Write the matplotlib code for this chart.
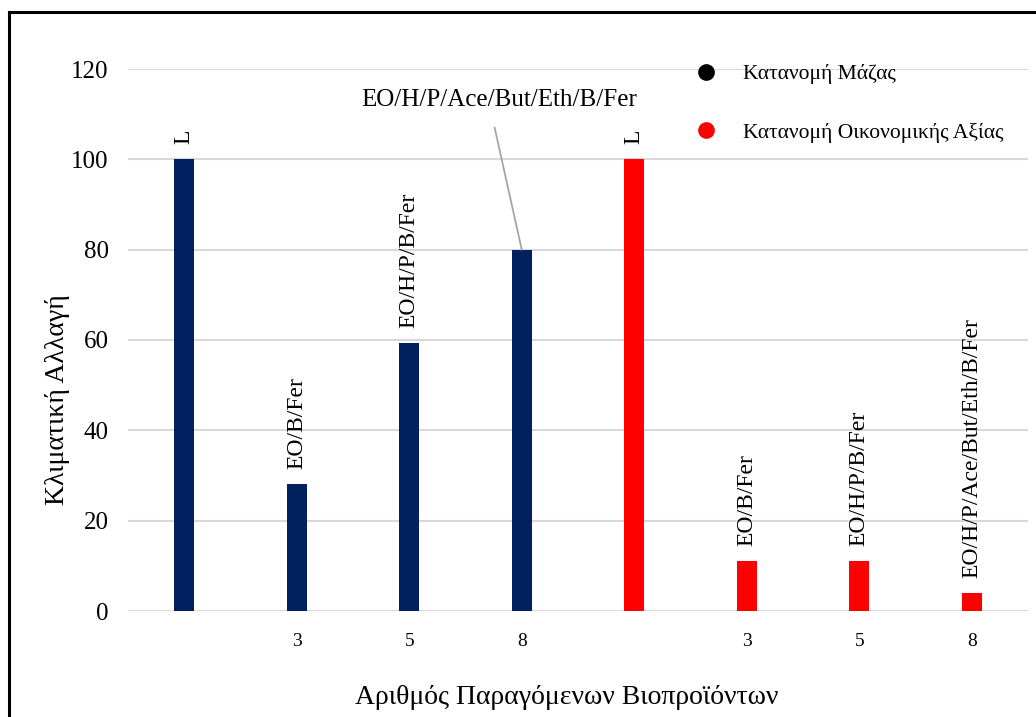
import matplotlib
matplotlib.use("Agg")
import matplotlib.pyplot as plt
from matplotlib.lines import Line2D

plt.rcParams['font.family'] = ['Liberation Serif', 'DejaVu Serif']

# Data
tick_labels = ["", "3", "5", "8", "", "3", "5", "8"]
mass_values = [100, 28.1, 59.3, 80]
economic_values = [100, 11.1, 11.1, 4.0]
product_labels = ["L", "EO/B/Fer", "EO/H/P/B/Fer", "EO/H/P/Ace/But/Eth/B/Fer"]
legend_labels = ["Κατανομή Μάζας", "Κατανομή Οικονομικής Αξίας"]
y_label = "Κλιματική Αλλαγή"
x_label = "Αριθμός Παραγόμενων Βιοπροϊόντων"

navy = "#002060"
red = "#FF0000"

W, H = 1036, 717
fig = plt.figure(figsize=(W / 100, H / 100), dpi=100)
ax = fig.add_axes([128 / W, 1 - 611 / H, 900 / W, 542 / H])

values = mass_values + economic_values
colors = [navy] * len(mass_values) + [red] * len(economic_values)
labels = product_labels + product_labels
x = list(range(len(values)))

ax.bar(x, values, width=0.18, color=colors, zorder=3)

ax.set_xlim(-0.5, 7.5)
ax.set_ylim(0, 120)
ax.set_yticks(range(0, 121, 20))
ax.set_xticks(x)
ax.set_xticklabels(tick_labels, fontsize=14)
ax.tick_params(axis='y', labelsize=18, length=0, pad=14)
ax.tick_params(axis='x', length=0, pad=16)
ax.grid(axis='y', color='#D9D9D9', linewidth=1.5, zorder=0)
for s in ax.spines.values():
    s.set_visible(False)

# Bar labels; the longest label on the mass series sits above with a leader line
for i, (xi, v, lab) in enumerate(zip(x, values, labels)):
    if i == 3:
        ax.annotate(lab, xy=(xi, v), xytext=(2.8, 113.1),
                    ha='center', va='center', fontsize=18,
                    arrowprops=dict(arrowstyle='-', color='#A6A6A6', lw=1.3,
                                    relpos=(0.47, 0.0), shrinkA=10, shrinkB=0))
    else:
        ax.annotate(lab, xy=(xi, v), xytext=(0, 11), textcoords='offset points',
                    rotation=90, ha='center', va='bottom', fontsize=17)

fig.text(58 / W, 1 - 400 / H, y_label, rotation=90, ha='center', va='center',
         fontsize=20)
fig.text(567 / W, 1 - 697 / H, x_label, ha='center', va='center', fontsize=20)

handles = [Line2D([], [], marker='o', linestyle='none', markersize=11,
                  markerfacecolor=c, markeredgecolor=c) for c in ("black", red)]
fig.legend(handles, legend_labels, loc='upper left',
           bbox_to_anchor=(684.5 / W, 1 - 64 / H),
           frameon=False, fontsize=15.5, labelspacing=1.8, handlelength=2.0,
           handletextpad=0.72, borderpad=0, borderaxespad=0)

# Frame lines on the left and top of the figure
fig.add_artist(Line2D([9 / W, 9 / W], [0, 1 - 12 / H], color='black',
                      lw=2.2, transform=fig.transFigure))
fig.add_artist(Line2D([9 / W, 1], [1 - 12 / H, 1 - 12 / H], color='black',
                      lw=2.2, transform=fig.transFigure))

fig.savefig("out.png", dpi=100)
